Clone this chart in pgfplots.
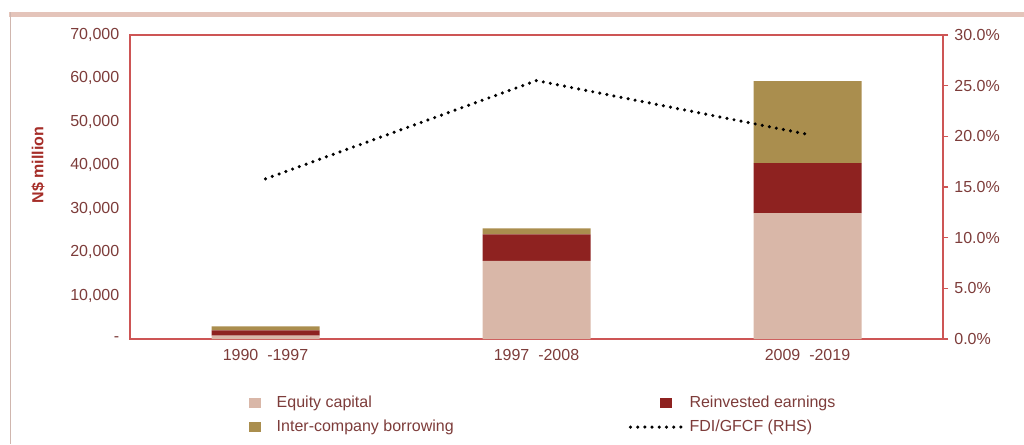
\documentclass[border=0pt]{standalone}
\usepackage{fontspec}
\setmainfont{Liberation Sans}
\usepackage{pgfplots}
\pgfplotsset{compat=1.18}
\definecolor{eqc}{RGB}{217,183,168}
\definecolor{reinv}{RGB}{142,34,32}
\definecolor{interc}{RGB}{170,142,78}
\definecolor{axred}{RGB}{205,85,85}
\definecolor{lblc}{RGB}{125,60,58}
\definecolor{ttl}{RGB}{165,45,40}
\definecolor{framec}{RGB}{228,196,186}
\pgfplotsset{
  sqleg/.style={legend image code/.code={\path[draw=none,fill=none,opacity=0] (0pt,-5.2pt) rectangle (42pt,5.2pt);\fill[fill=##1,draw=none] (23.5pt,-4pt) rectangle (32pt,4pt);}},
  lineleg/.style={legend image code/.code={\draw[##1] (1pt,0pt) -- (42pt,0pt);}},
  dotline/.style={black, line width=2.6pt, dash pattern=on 0pt off 5.4pt, line cap=round},
}
\begin{document}
\begin{tikzpicture}[x=1pt,y=1pt]
\path[use as bounding box] (0,0) rectangle (768,333);
\fill[framec] (7,320.5) rectangle (768,324);
\draw[framec!80!gray, line width=0.6pt] (7.5,0) -- (7.5,324);
\begin{axis}[
  at={(97.5pt,78.75pt)}, anchor=south west,
  scale only axis, width=609.75pt, height=228pt,
  ybar stacked, bar width=81pt,
  xmin=-0.5, xmax=2.5, ymin=0, ymax=70000,
  scaled y ticks=false,
  axis line style={axred, line width=1pt},
  major tick length=0pt,
  xtick={0,1,2},
  xticklabels={{1990 \ -1997},{1997 \ -2008},{2009 \ -2019}},
  ytick={0,10000,20000,30000,40000,50000,60000,70000},
  yticklabels={{-},{10,000},{20,000},{30,000},{40,000},{50,000},{60,000},{70,000}},
  tick label style={font=\fontsize{12}{14}\selectfont, text=lblc},
  yticklabel style={xshift=-4.5pt},
  xticklabel style={yshift=-4pt},
  ylabel={\textbf{N\$ million}},
  ylabel style={at={(rel axis cs:-0.113,0.572)}, anchor=center, font=\fontsize{12}{14}\selectfont, text=ttl},
  legend columns=2,
  legend style={draw=none, fill=none, at={(0.108,-0.178)}, anchor=north west,
    font=\fontsize{12}{14}\selectfont, text=lblc, row sep=4pt, column sep=0pt,
    inner sep=0pt},
  legend cell align=left,
]
\addplot[fill=eqc, draw=none, sqleg={eqc}] coordinates {(0,800) (1,18000) (2,29000)};
\addlegendentry{\makebox[262pt][l]{Equity capital}}
\addplot[fill=reinv, draw=none, sqleg={reinv}] coordinates {(0,1200) (1,6100) (2,11500)};
\addlegendentry{Reinvested earnings}
\addplot[fill=interc, draw=none, sqleg={interc}] coordinates {(0,900) (1,1400) (2,18900)};
\addlegendentry{\makebox[262pt][l]{Inter-company borrowing}}
\addlegendimage{dotline, lineleg}
\addlegendentry{FDI/GFCF (RHS)}
\end{axis}
\begin{axis}[
  at={(97.5pt,78.75pt)}, anchor=south west,
  scale only axis, width=609.75pt, height=228pt,
  xmin=-0.5, xmax=2.5, ymin=0, ymax=30,
  axis x line=none, axis y line*=right,
  axis line style={axred, line width=1pt},
  ytick={0,5,10,15,20,25,30},
  yticklabels={{0.0\%},{5.0\%},{10.0\%},{15.0\%},{20.0\%},{25.0\%},{30.0\%}},
  tick align=outside, major tick length=4pt,
  ytick style={axred, line width=1pt},
  tick label style={font=\fontsize{12}{14}\selectfont, text=lblc},
  yticklabel style={xshift=1pt},
]
\addplot[dotline] coordinates {(0,15.8) (1,25.5) (2,20.2)};
\end{axis}
\end{tikzpicture}
\end{document}
